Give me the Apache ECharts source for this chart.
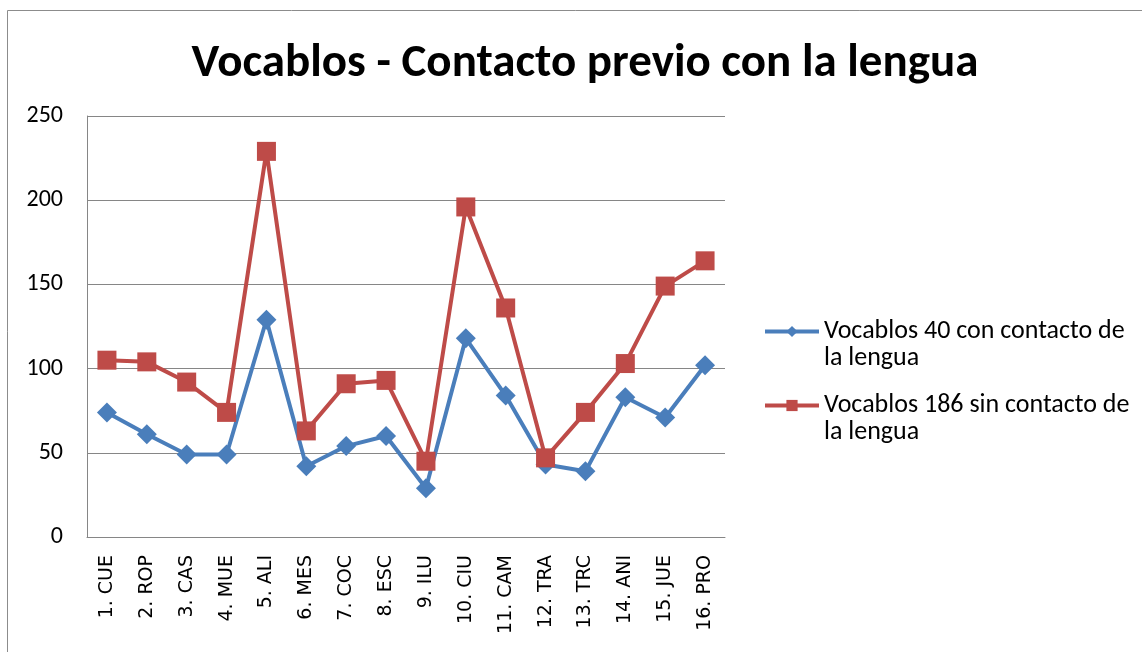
<!DOCTYPE html>
<html>
<head>
<meta charset="utf-8">
<title>Vocablos - Contacto previo con la lengua</title>
<script src="https://cdn.jsdelivr.net/npm/echarts@6/dist/echarts.min.js"></script>
<style>
  html, body { margin: 0; padding: 0; background: #fff; }
  #chart { width: 1142px; height: 652px; }
</style>
</head>
<body>
<div id="chart"></div>
<script>
// categorias (eje x)
const categories = ['1. CUE', '2. ROP', '3. CAS', '4. MUE', '5. ALI', '6. MES', '7. COC', '8. ESC',
  '9. ILU', '10. CIU', '11. CAM', '12. TRA', '13. TRC', '14. ANI', '15. JUE', '16. PRO']
// series
const conContacto = [74, 61, 49, 49, 129, 42, 54, 60, 29, 118, 84, 43, 39, 83, 71, 102]
const sinContacto = [105, 104, 92, 74, 229, 63, 91, 93, 45, 196, 136, 47, 74, 103, 149, 164]
const seriesNames = ['Vocablos 40 con contacto de la lengua', 'Vocablos 186 sin contacto de la lengua']
// leading blank line puts the icon level with the first text line
const legendLabels = {
  'Vocablos 40 con contacto de la lengua': '\nVocablos 40 con contacto de\nla lengua',
  'Vocablos 186 sin contacto de la lengua': '\nVocablos 186 sin contacto de\nla lengua'
}

const chart = echarts.init(document.getElementById('chart'), null, { renderer: 'canvas' })
const font = 'Carlito, Calibri, "Liberation Sans Narrow", "Open Sans", sans-serif'

chart.setOption({
  backgroundColor: '#fff',
  animation: false,
  title: {
    text: 'Vocablos - Contacto previo con la lengua',
    left: 580,
    textAlign: 'center',
    top: 36,
    textStyle: {
      fontFamily: font,
      fontWeight: 'bold',
      fontSize: 47,
      color: '#000'
    }
  },
  graphic: [{
    type: 'rect',
    shape: { x: 7.5, y: 10.5, width: 1200, height: 700 },
    style: { fill: 'none', stroke: '#8c8c8c', lineWidth: 1 },
    silent: true
  }],
  grid: {
    left: 87,
    right: 417,
    top: 116,
    bottom: 115
  },
  legend: {
    orient: 'vertical',
    left: 763,
    top: 291,
    padding: 0,
    itemWidth: 54,
    itemHeight: 14,
    itemGap: -7,
    data: seriesNames,
    lineStyle: { width: 4 },
    formatter: name => legendLabels[name],
    textStyle: {
      fontFamily: font,
      fontSize: 26,
      lineHeight: 27,
      color: '#000'
    }
  },
  xAxis: {
    type: 'category',
    data: categories,
    boundaryGap: true,
    axisLine: { lineStyle: { color: '#868686', width: 1 } },
    axisTick: { show: false },
    axisLabel: {
      rotate: 90,
      interval: 0,
      margin: 18,
      fontFamily: '"DejaVu Sans", Verdana, sans-serif',
      fontSize: 19,
      color: '#000'
    }
  },
  yAxis: {
    type: 'value',
    min: 0,
    max: 250,
    interval: 50,
    axisLine: { show: true, lineStyle: { color: '#868686', width: 1 } },
    axisTick: { show: false },
    splitLine: { lineStyle: { color: '#868686', width: 1 } },
    axisLabel: {
      margin: 24,
      fontFamily: font,
      fontSize: 24,
      color: '#000'
    }
  },
  series: [{
    name: seriesNames[0],
    type: 'line',
    data: conContacto,
    symbol: 'diamond',
    symbolSize: 20,
    color: '#4a7ebb',
    lineStyle: { width: 4, color: '#4a7ebb' },
    itemStyle: { color: '#4a7ebb' }
  }, {
    name: seriesNames[1],
    type: 'line',
    data: sinContacto,
    symbol: 'rect',
    symbolSize: 19,
    color: '#be4b48',
    lineStyle: { width: 4, color: '#be4b48' },
    itemStyle: { color: '#be4b48' }
  }]
})
</script>
</body>
</html>
